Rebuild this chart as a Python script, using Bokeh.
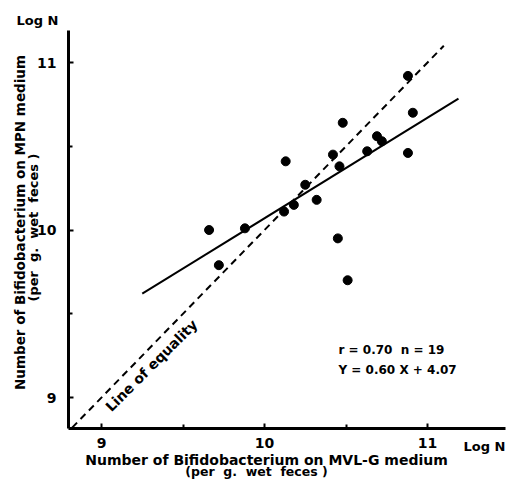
import math
from bokeh.plotting import figure
from bokeh.models import Label, FixedTicker, Range1d
from bokeh.embed import file_html
from bokeh.resources import INLINE

# Log N on MVL-G medium (x) vs Log N on MPN medium (y)
mvl_g = [9.66, 9.72, 9.88, 10.12, 10.13, 10.18, 10.25, 10.32, 10.42, 10.45,
         10.46, 10.48, 10.51, 10.63, 10.69, 10.72, 10.88, 10.88, 10.91]
mpn = [10.00, 9.79, 10.01, 10.11, 10.41, 10.15, 10.27, 10.18, 10.45, 9.95,
       10.38, 10.64, 9.70, 10.47, 10.56, 10.53, 10.46, 10.92, 10.70]

slope = 0.60
intercept = 4.07
fit_x = [9.25, 11.19]
equality_x = [8.82, 11.10]

major_ticks = [9, 10, 11]
minor_ticks = [9.5, 10.5]

FONT = "DejaVu Sans"
W, H = 510, 479


# pixel <-> data mapping of the drawing (163 px / unit in x, 167.5 px / unit in y)
def px2x(px):
    return 9 + (px - 101) / 163.0


def py2y(py):
    return 11 - (py - 62) / 167.5


p = figure(width=W, height=H, output_backend="svg", toolbar_location=None,
           x_range=Range1d(px2x(0), px2x(W)), y_range=Range1d(py2y(H), py2y(0)),
           min_border=0, min_border_left=0, min_border_right=0,
           min_border_top=0, min_border_bottom=0)
p.outline_line_color = None
p.xgrid.visible = False
p.ygrid.visible = False

x_lo, x_hi = px2x(68), px2x(505)
y_lo, y_hi = py2y(428), py2y(30)

p.xaxis.fixed_location = y_lo
p.xaxis.bounds = (x_lo, x_hi)
p.yaxis.fixed_location = x_lo
p.yaxis.bounds = (y_lo, y_hi)

for ax in (p.xaxis[0], p.yaxis[0]):
    ax.ticker = FixedTicker(ticks=major_ticks, minor_ticks=minor_ticks)
    ax.axis_line_width = 3
    ax.axis_line_color = "black"
    ax.major_tick_in = 5
    ax.major_tick_out = 0
    ax.minor_tick_in = 4
    ax.minor_tick_out = 0
    ax.major_tick_line_width = 2
    ax.minor_tick_line_width = 2
    ax.major_label_text_font = FONT
    ax.major_label_text_font_style = "bold"
    ax.major_label_text_font_size = "14px"
    ax.major_label_text_color = "black"
p.xaxis.major_label_standoff = 9
p.yaxis.major_label_standoff = 12

# line of equality
p.line(equality_x, equality_x, line_color="black", line_width=2, line_dash="7 5")
# regression line
p.line(fit_x, [slope * x + intercept for x in fit_x], line_color="black", line_width=2)
# points
p.scatter(mvl_g, mpn, size=9, fill_color="black", line_color="black")


def lab(text, px, py, angle=0.0, size="13px", align="center"):
    p.add_layout(Label(x=px2x(px), y=py2y(py), text=text, angle=angle,
                       text_font=FONT, text_font_style="bold",
                       text_font_size=size, text_align=align,
                       text_baseline="middle", text_color="black"))


NB = "\u00a0"
per_g = "(per" + NB + " g." + NB + " wet" + NB + " feces )"
lab("Log N", 37, 20)
lab("Log N", 484, 446)
lab("Number of Bifidobacterium on MVL-G medium", 266, 459, size="14px")
lab(per_g, 256, 471, size="12.5px")
lab("Number of Bifidobacterium on MPN medium", 19, 222, size="13.5px", angle=math.pi / 2)
lab(per_g, 33, 227, size="13px", angle=math.pi / 2)
lab("r = 0.70" + NB * 2 + "n = 19", 338, 349, size="12px", align="left")
lab("Y = 0.60 X + 4.07", 338, 369, size="12px", align="left")
lab("Line of equality", 151, 365, angle=math.pi / 4, size="14px")

open("out.html", "w").write(file_html(p, INLINE))
